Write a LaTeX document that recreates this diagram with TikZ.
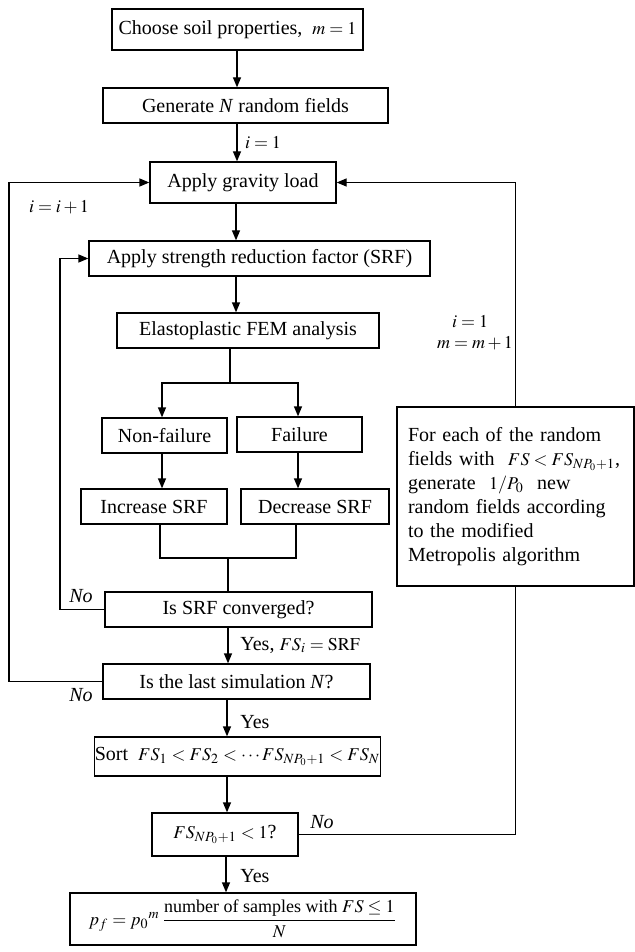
\documentclass[tikz,border=0pt]{standalone}
\usepackage{amsmath}
\usepackage{mathptmx}
\usepackage[no-math]{fontspec}
\setmainfont{Liberation Serif}
\usetikzlibrary{arrows.meta}
\newcommand\mm[1]{{\fontsize{9}{11}\selectfont$#1$}}
\begin{document}
\begin{tikzpicture}[x=0.5pt,y=-0.5pt, font=\fontsize{10}{12}\selectfont,
  box/.style={draw, line width=0.65pt, inner sep=0pt, align=center},
  arr/.style={line width=0.65pt, -{Triangle[length=5pt,width=4pt]}},
  ln/.style={line width=0.65pt},
  lbl/.style={inner sep=0pt},
  nolbl/.style={inner sep=0pt, font=\fontsize{10}{12}\selectfont\itshape}]
\useasboundingbox (0,0) rectangle (635,952);

% boxes
\node[box, minimum width=125.5pt, minimum height=20.5pt] (b1) at (237.5,29.5) {Choose soil properties, \ \mm{m=1}};
\node[box, minimum width=142.5pt, minimum height=17.5pt] (b2) at (245.5,105.5) {Generate \textit{N} random fields};
\node[box, minimum width=93pt, minimum height=20.5pt] (b3) at (243,182.5) {Apply gravity load};
\node[box, minimum width=170.5pt, minimum height=17.5pt] (b4) at (259.5,258.5) {Apply strength reduction factor (SRF)};
\node[box, minimum width=131pt, minimum height=17.5pt] (b5) at (248,330.5) {Elastoplastic FEM analysis};
\node[box, minimum width=62.5pt, minimum height=17.5pt] (nf) at (164.5,435.5) {Non-failure};
\node[box, minimum width=62.5pt, minimum height=17.5pt] (fa) at (299.5,434.5) {Failure};
\node[box, minimum width=73pt, minimum height=17.5pt] (inc) at (154,506.5) {Increase SRF};
\node[box, minimum width=74pt, minimum height=17.5pt] (dec) at (315,506.5) {Decrease SRF};
\node[box, minimum width=133.5pt, minimum height=17.5pt] (conv) at (238.5,609.5) {Is SRF converged?};
\node[box, minimum width=133.5pt, minimum height=17.5pt] (last) at (236.5,681.5) {Is the last simulation \textit{N}?};
\node[box, minimum width=132.5pt, minimum height=19.5pt] (sort) at (237.5,756.5) {Sort \ \mm{FS_1<FS_2<\cdots FS_{NP_0+1}<FS_N}};
\node[box, minimum width=73pt, minimum height=21.5pt] (fs) at (225,834.5) {\mm{FS_{NP_0+1}<1}?};
\node[box, minimum width=173pt, minimum height=26pt] (pf) at (243,919) {\mm{p_f=p_0{}^{m}\,\dfrac{\text{number of samples with }FS\le 1}{N}}};
\node[box, minimum width=118.5pt, minimum height=89.5pt, text width=107.5pt, inner xsep=5.5pt, align=left] (rb) at (515.5,496.5)
  {For each of the random\\ \mbox{fields with \ \mm{FS<FS_{NP_0+1}},}\\ generate \ \mm{1/P_0} \ new\\ random fields according\\ to the modified\\ Metropolis algorithm};

% helper x positions
\coordinate (xa1) at (237,0);
\coordinate (xa2) at (236,0);
\coordinate (xs) at (230,0);
\coordinate (xn) at (162,0);
\coordinate (xf) at (298,0);
\coordinate (xi) at (160,0);
\coordinate (xd) at (296,0);
\coordinate (xm) at (228,0);
\coordinate (xl) at (227,0);
\coordinate (xp) at (226,0);
\coordinate (xL) at (9,0);
\coordinate (xI) at (60,0);
\coordinate (sp) at (230,383);
\coordinate (mg) at (228,558);

% main flow
\draw[arr] (b1.south -| xa1) -- (b2.north -| xa1);
\draw[arr] (b2.south -| xa1) -- (b3.north -| xa1);
\draw[arr] (b3.south -| xa2) -- (b4.north -| xa2);
\draw[arr] (b4.south -| xa2) -- (b5.north -| xa2);
\draw[ln] (b5.south -| xs) -- (sp);
\draw[arr] (sp) -| (nf.north -| xn);
\draw[arr] (sp) -| (fa.north -| xf);
\draw[arr] (nf.south -| xn) -- (inc.north -| xn);
\draw[arr] (fa.south -| xf) -- (dec.north -| xf);
\draw[ln] (inc.south -| xi) |- (mg);
\draw[ln] (dec.south -| xd) |- (mg);
\draw[ln] (mg) -- (conv.north -| xm);
\draw[arr] (conv.south -| xm) -- (last.north -| xm);
\draw[arr] (last.south -| xl) -- (sort.north -| xl);
\draw[arr] (sort.south -| xl) -- (fs.north -| xl);
\draw[arr] (fs.south -| xp) -- (pf.north -| xp);

% loops
\draw[arr] (last.west) -- (last.west -| xL) -- (b3.west -| xL) -- (b3.west);
\draw[arr] (conv.west) -- (conv.west -| xI) -- (b4.west -| xI) -- (b4.west);
\draw[ln] (fs.east) -| (rb.south);
\draw[arr] (rb.north) |- (b3.east);

% labels
\node[lbl] (l1) at (263,143) {\mm{i=1}};
\node[lbl] (l2) at (59,207) {\mm{i=i+1}};
\node[lbl] (l3) at (470,322) {\mm{i=1}};
\node[lbl] (l4) at (475,343) {\mm{m=m+1}};
\node[nolbl] (n1) at (81,596) {No};
\node[nolbl] (n2) at (81,695) {No};
\node[nolbl] (n3) at (322,822) {No};
\node[lbl, anchor=west] (y1) at (240,645) {Yes, \mm{FS_i=\mathrm{SRF}}};
\node[lbl, anchor=west] (y2) at (240,722) {Yes};
\node[lbl, anchor=west] (y3) at (240,876) {Yes};
\end{tikzpicture}
\end{document}
